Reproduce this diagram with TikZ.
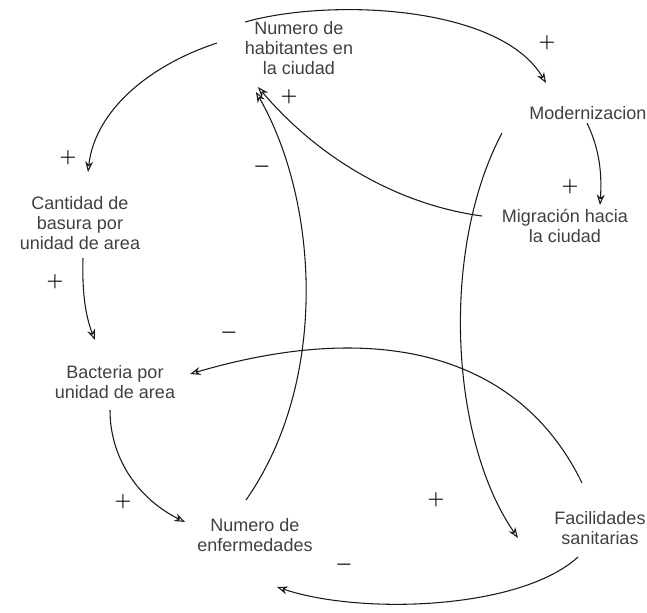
\documentclass[tikz,border=0pt]{standalone}
\usepackage{fontspec}
\setmainfont{Liberation Sans}
\usetikzlibrary{arrows.meta}
\tikzset{
  var/.style={align=center, inner sep=3pt, text=black!75, font=\fontsize{13.5}{15}\selectfont},
  link/.style={draw=black!90, line width=0.8pt, -{Stealth[open, length=8pt, width=6pt]}},
  pol/.style={inner sep=0pt, font=\Large\boldmath},
}
\begin{document}
\begin{tikzpicture}[x=0.75pt, y=-0.75pt]
  \useasboundingbox (0,0) rectangle (647,612);
  % variables
  \node[var] (hab) at (299,48) {Numero de\\habitantes en\\la ciudad};
  \node[var] (mod) at (588,113) {Modernizacion};
  \node[var] (mig) at (565,226) {Migración hacia\\la ciudad};
  \node[var] (bas) at (80,223) {Cantidad de\\basura por\\unidad de area};
  \node[var] (bac) at (115,382) {Bacteria por\\unidad de area};
  \node[var] (enf) at (255,535) {Numero de\\enfermedades};
  \node[var] (fac) at (600,528) {Facilidades\\sanitarias};
  % links
  \draw[link] ([shift={(-54,-26)}]hab.center) .. controls (330,-2) and (500,5) .. ([shift={(-42,-30)}]mod.center);
  \draw[link] ([shift={(-82,-5)}]hab.center) .. controls (150,65) and (95,110) .. ([shift={(8,-51)}]bas.center);
  \draw[link] ([shift={(-1,10)}]mod.center) .. controls (600,150) and (602,175) .. ([shift={(35,-21)}]mig.center);
  \draw[link] ([shift={(-83,-10)}]mig.center) .. controls (400,205) and (320,160) .. ([shift={(-41,39)}]hab.center);
  \draw[link] ([shift={(-9,-35)}]enf.center) .. controls (330,380) and (318,200) .. ([shift={(-43,44)}]hab.center);
  \draw[link] ([shift={(3,35)}]bas.center) .. controls (82,290) and (85,315) .. ([shift={(-20,-42)}]bac.center);
  \draw[link] ([shift={(-18,-45)}]fac.center) .. controls (520,355) and (380,318) .. ([shift={(75,-8)}]bac.center);
  \draw[link] ([shift={(-5,28)}]bac.center) .. controls (110,460) and (140,500) .. ([shift={(-70,-13)}]enf.center);
  \draw[link] ([shift={(-86,20)}]mod.center) .. controls (440,250) and (450,440) .. ([shift={(-82,10)}]fac.center);
  \draw[link] ([shift={(-22,29)}]fac.center) .. controls (520,610) and (360,615) .. ([shift={(22,52)}]enf.center);
  % polarities
  \node[pol] (p1) at (547,43) {$+$};
  \node[pol] (p2) at (68,158) {$+$};
  \node[pol] (p3) at (570,187) {$+$};
  \node[pol] (p4) at (289,97) {$+$};
  \node[pol] (p5) at (262,167) {$-$};
  \node[pol] (p6) at (55,282) {$+$};
  \node[pol] (p7) at (229,333) {$-$};
  \node[pol] (p8) at (123,502) {$+$};
  \node[pol] (p9) at (436,500) {$+$};
  \node[pol] (p10) at (344,565) {$-$};
\end{tikzpicture}
\end{document}
